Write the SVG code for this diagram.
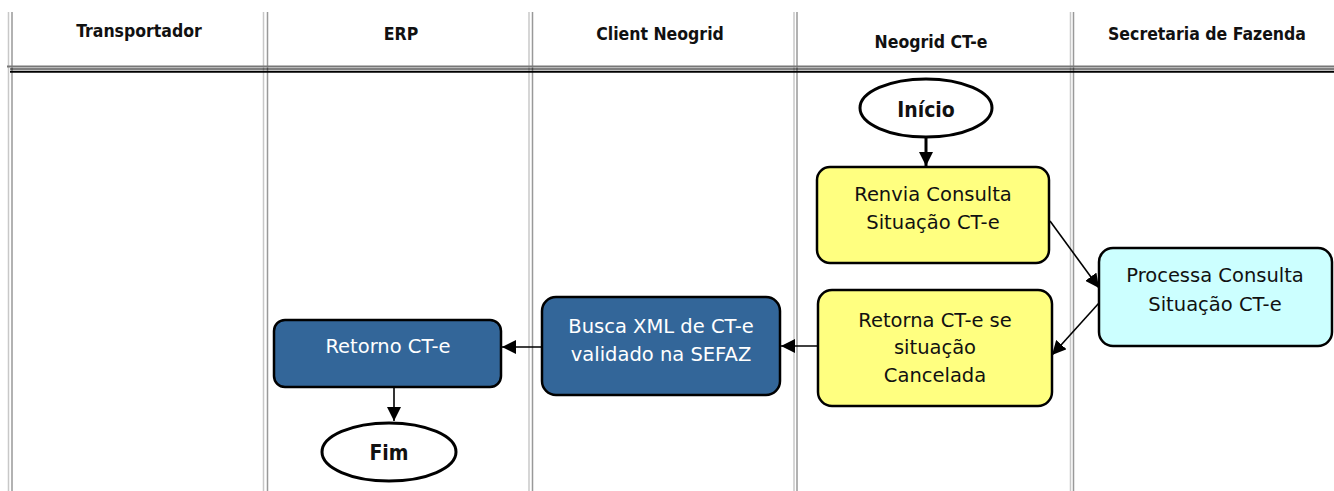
<svg xmlns="http://www.w3.org/2000/svg" width="1334" height="491" viewBox="0 0 1334 491">
<style>
.hdr{font-family:"DejaVu Sans Condensed","DejaVu Sans",sans-serif;font-stretch:condensed;font-weight:bold;font-size:17.5px;fill:#111;text-anchor:middle}
.txt{font-family:"DejaVu Sans",sans-serif;font-size:19.5px;text-anchor:middle;fill:#111}
.w{fill:#fff}
.bold{font-family:"DejaVu Sans Condensed","DejaVu Sans",sans-serif;font-stretch:condensed;font-weight:bold;font-size:21px;text-anchor:middle;fill:#111}
.lt{stroke:#c8c8c8;stroke-width:1.5}
.dk{stroke:#999;stroke-width:1.5}
.box{stroke:#000;stroke-width:2.5}
.yel{fill:#ffff80}
.cyan{fill:#ccffff}
.blue{fill:#336699}
.term{fill:#fff;stroke:#000;stroke-width:3}
.con{fill:none;stroke:#000;stroke-width:1.6}
</style>
<defs>
<marker id="ah" viewBox="0 0 10 10" refX="10" refY="5" markerWidth="14" markerHeight="14" markerUnits="userSpaceOnUse" orient="auto">
<path d="M0,0 L10,5 L0,10 z" fill="#000"/>
</marker>
<marker id="ahb" viewBox="0 0 10 10" refX="10" refY="5" markerWidth="9" markerHeight="9" markerUnits="strokeWidth" orient="auto">
<path d="M0,1 L10,5 L0,9 z" fill="#000"/>
</marker>
</defs>
<rect width="1334" height="491" fill="#fff"/>
<g id="lanes">
<line class="lt" x1="8.5" y1="12" x2="8.5" y2="491"/>
<line class="dk" x1="12" y1="12" x2="12" y2="491"/>
<line class="lt" x1="263.5" y1="12" x2="263.5" y2="491"/>
<line class="dk" x1="267.5" y1="12" x2="267.5" y2="491"/>
<line class="lt" x1="529" y1="12" x2="529" y2="491"/>
<line class="dk" x1="532.5" y1="12" x2="532.5" y2="491"/>
<line class="lt" x1="794" y1="12" x2="794" y2="491"/>
<line class="dk" x1="797" y1="12" x2="797" y2="491"/>
<line class="lt" x1="1070.5" y1="12" x2="1070.5" y2="491"/>
<line class="dk" x1="1073.5" y1="12" x2="1073.5" y2="491"/>
<line x1="7" y1="66.5" x2="1334" y2="66.5" stroke="#777" stroke-width="2"/>
<line x1="10" y1="69" x2="1334" y2="69" stroke="#000" stroke-width="1.2"/>
<line x1="10" y1="71.7" x2="1334" y2="71.7" stroke="#000" stroke-width="2"/>
<text class="hdr" x="139" y="37">Transportador</text>
<text class="hdr" x="401" y="40">ERP</text>
<text class="hdr" x="660" y="40">Client Neogrid</text>
<text class="hdr" x="931" y="48">Neogrid CT-e</text>
<text class="hdr" x="1207" y="40">Secretaria de Fazenda</text>
</g>
<g id="connectors">
<line x1="926" y1="138" x2="926" y2="166" stroke="#000" stroke-width="3" marker-end="url(#ah)"/>
<line class="con" x1="1050" y1="221" x2="1099" y2="288" marker-end="url(#ah)"/>
<line class="con" x1="1099" y1="303" x2="1052" y2="355" marker-end="url(#ah)"/>
<line class="con" x1="818" y1="346" x2="781" y2="346" marker-end="url(#ah)"/>
<line class="con" x1="541" y1="347" x2="502" y2="347" marker-end="url(#ah)"/>
<line class="con" x1="394" y1="387" x2="394" y2="421" marker-end="url(#ah)"/>
</g>
<g id="inicio">
<ellipse class="term" cx="926" cy="108" rx="66" ry="29"/>
<text class="bold" x="926" y="117">Início</text>
</g>
<g id="renvia">
<rect class="box yel" x="817" y="167" width="232" height="96" rx="13"/>
<text class="txt" x="933" y="201">Renvia Consulta</text>
<text class="txt" x="933" y="229">Situação CT-e</text>
</g>
<g id="processa">
<rect class="box cyan" x="1099" y="248" width="233" height="98" rx="14"/>
<text class="txt" x="1215" y="282">Processa Consulta</text>
<text class="txt" x="1215" y="311">Situação CT-e</text>
</g>
<g id="retorna">
<rect class="box yel" x="818" y="290" width="234" height="116" rx="14"/>
<text class="txt" x="935" y="327">Retorna CT-e se</text>
<text class="txt" x="935" y="354">situação</text>
<text class="txt" x="935" y="382">Cancelada</text>
</g>
<g id="busca">
<rect class="box blue" x="542" y="297" width="238" height="98" rx="14"/>
<text class="txt w" x="661" y="333">Busca XML de CT-e</text>
<text class="txt w" x="661" y="361">validado na SEFAZ</text>
</g>
<g id="retorno">
<rect class="box blue" x="274" y="320" width="227" height="67" rx="11"/>
<text class="txt w" x="388" y="353">Retorno CT-e</text>
</g>
<g id="fim">
<ellipse class="term" cx="389" cy="452" rx="67" ry="29"/>
<text class="bold" x="389" y="460">Fim</text>
</g>
</svg>
